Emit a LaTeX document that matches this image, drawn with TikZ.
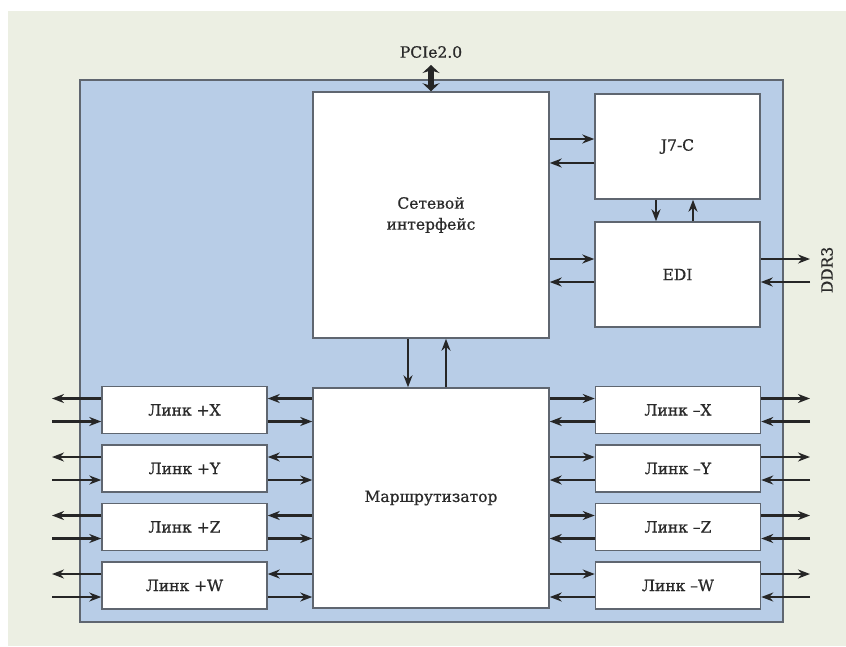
\documentclass[tikz,border=0pt]{standalone}
\usepackage{fontspec}
\setmainfont{DejaVu Serif}[FakeBold=0.8]
\usetikzlibrary{arrows.meta}
\definecolor{paper}{HTML}{ECEFE3}
\definecolor{chip}{HTML}{B8CDE7}
\definecolor{edge}{HTML}{5F6670}
\definecolor{ink}{HTML}{2A2A2A}

\begin{document}
\begin{tikzpicture}[x=1pt, y=-1pt,
    box/.style={rectangle, draw=edge, fill=white, line width=1.5pt, text=ink,
                align=center, inner sep=0pt, font=\fontsize{15.5}{21}\selectfont},
    link/.style={box, minimum width=165pt, minimum height=47pt},
    arr/.style={-{Stealth[length=12pt,width=9pt]}, line width=2.6pt, draw=black!85}
]
    \useasboundingbox (0,0) rectangle (846,646);
    \fill[paper] (8,11) rectangle (846,646);
    \draw[edge, fill=chip, line width=1.5pt] (80,80) rectangle (783,622);

    \node[box, minimum width=236pt, minimum height=246pt] (net) at (431,215) {Сетевой\\интерфейс};
    \node[box, minimum width=236pt, minimum height=220pt] (rtr) at (431,498) {Маршрутизатор};
    \node[box, minimum width=165pt, minimum height=105pt] (j7c) at (677.5,146.5) {J7-C};
    \node[box, minimum width=165pt, minimum height=105pt] (edi) at (677.5,274.5) {EDI};

    % PCIe
    \node[text=ink, font=\fontsize{15.5}{17}\selectfont] (pcie) at (431,52) {PCIe2.0};
    \coordinate (pcietop) at (431,65);
    \draw[{Stealth[length=8pt,width=17pt]}-{Stealth[length=8pt,width=17pt]}, line width=6pt, draw=black!85]
        (pcietop) -- (net.north);

    % horizontal rows
    \coordinate (r1) at (0,139);
    \coordinate (r2) at (0,163);
    \coordinate (r3) at (0,259);
    \coordinate (r4) at (0,282);
    \draw[arr] (net.east |- r1) -- (j7c.west |- r1);
    \draw[arr] (j7c.west |- r2) -- (net.east |- r2);
    \draw[arr] (net.east |- r3) -- (edi.west |- r3);
    \draw[arr] (edi.west |- r4) -- (net.east |- r4);

    % DDR3
    \coordinate (ddr) at (810,0);
    \node[rotate=90, text=ink, font=\fontsize{15.5}{17}\selectfont] (ddrlbl) at (827,270) {DDR3};
    \draw[arr] (edi.east |- r3) -- (ddr |- r3);
    \draw[arr] (ddr |- r4) -- (edi.east |- r4);

    % vertical links
    \coordinate (c1) at (656,0);
    \coordinate (c2) at (693,0);
    \coordinate (c3) at (408,0);
    \coordinate (c4) at (446,0);
    \draw[arr] (j7c.south -| c1) -- (edi.north -| c1);
    \draw[arr] (edi.north -| c2) -- (j7c.south -| c2);
    \draw[arr] (net.south -| c3) -- (rtr.north -| c3);
    \draw[arr] (rtr.north -| c4) -- (net.south -| c4);

    % links
    \coordinate (outl) at (52,0);
    \coordinate (outr) at (810,0);
    \foreach \ax/\y in {X/410, Y/468.5, Z/527, W/585.5} {
        \node[link] (lp\ax) at (184.5,\y) {Линк +\ax};
        \node[link] (lm\ax) at (678,\y) {Линк –\ax};
        \coordinate (up\ax) at (0,\y-11.5);
        \coordinate (dn\ax) at (0,\y+11.5);
        \draw[arr] (rtr.west |- up\ax) -- (lp\ax.east |- up\ax);
        \draw[arr] (lp\ax.east |- dn\ax) -- (rtr.west |- dn\ax);
        \draw[arr] (lp\ax.west |- up\ax) -- (outl |- up\ax);
        \draw[arr] (outl |- dn\ax) -- (lp\ax.west |- dn\ax);
        \draw[arr] (rtr.east |- up\ax) -- (lm\ax.west |- up\ax);
        \draw[arr] (lm\ax.west |- dn\ax) -- (rtr.east |- dn\ax);
        \draw[arr] (lm\ax.east |- up\ax) -- (outr |- up\ax);
        \draw[arr] (outr |- dn\ax) -- (lm\ax.east |- dn\ax);
    }
\end{tikzpicture}
\end{document}
